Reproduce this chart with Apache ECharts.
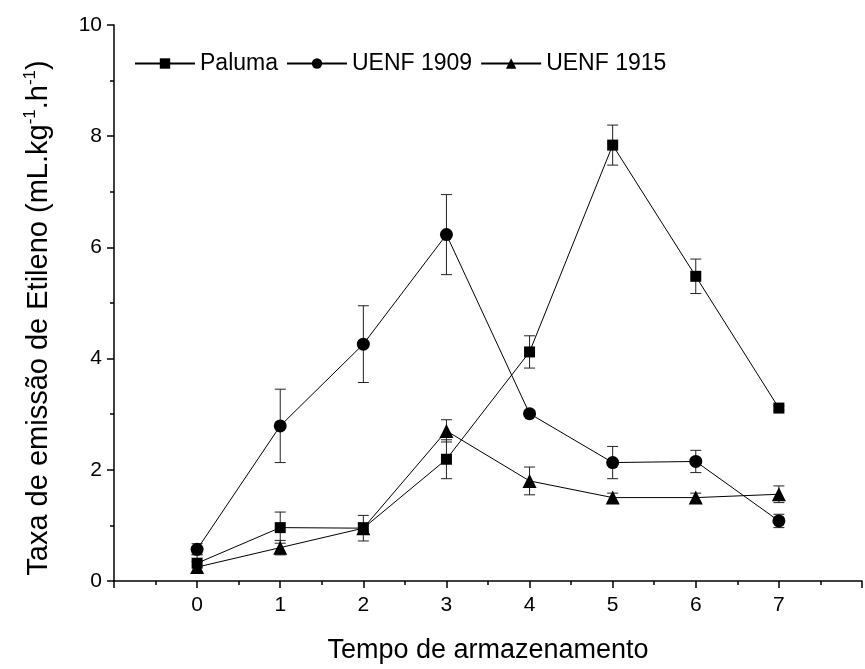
<!DOCTYPE html>
<html>
<head>
<meta charset="utf-8">
<script src="https://cdn.jsdelivr.net/npm/echarts@6/dist/echarts.min.js"></script>
<style>
  html, body { margin: 0; padding: 0; background: #fff; }
  #chart { width: 865px; height: 669px; }
</style>
</head>
<body>
<div id="chart"></div>
<script>
// dias de armazenamento
const tempo = [0, 1, 2, 3, 4, 5, 6, 7]
// Paluma
const paluma = [0.32, 0.96, 0.95, 2.19, 4.12, 7.84, 5.48, 3.11]
const palumaErr = [0.16, 0.28, 0.23, 0.35, 0.29, 0.36, 0.31, 0.04]
// UENF 1909
const uenf1909 = [0.57, 2.79, 4.26, 6.23, 3.01, 2.13, 2.15, 1.08]
const uenf1909Err = [0.1, 0.66, 0.69, 0.72, 0.05, 0.29, 0.2, 0.12]
// UENF 1915
const uenf1915 = [0.25, 0.6, 0.95, 2.7, 1.8, 1.5, 1.5, 1.56]
const uenf1915Err = [0.1, 0.13, 0.1, 0.2, 0.25, 0.08, 0.08, 0.15]

const font = 'Liberation Sans, Arial, sans-serif'

function lineSeries(name, vals, symbol, size) {
  return {
    name: name,
    type: 'line',
    data: tempo.map((t, i) => [t, vals[i]]),
    symbol: symbol,
    symbolSize: size,
    showAllSymbol: true,
    z: 3,
    lineStyle: { color: '#000', width: 1 },
    itemStyle: { color: '#000' }
  }
}

// barras de erro
function errorBars(vals, errs) {
  return {
    type: 'custom',
    silent: true,
    z: 2,
    data: tempo.map((t, i) => [t, vals[i] - errs[i], vals[i] + errs[i]]),
    encode: { x: 0, y: [1, 2] },
    renderItem: function (params, api) {
      const lo = api.coord([api.value(0), api.value(1)])
      const hi = api.coord([api.value(0), api.value(2)])
      const w = 5.5
      const st = { stroke: '#222', lineWidth: 1 }
      return {
        type: 'group',
        children: [
          { type: 'line', shape: { x1: lo[0], y1: lo[1], x2: hi[0], y2: hi[1] }, style: st },
          { type: 'line', shape: { x1: lo[0] - w, y1: lo[1], x2: lo[0] + w, y2: lo[1] }, style: st },
          { type: 'line', shape: { x1: hi[0] - w, y1: hi[1], x2: hi[0] + w, y2: hi[1] }, style: st }
        ]
      }
    }
  }
}

const chart = echarts.init(document.getElementById('chart'))
chart.setOption({
  animation: false,
  backgroundColor: '#fff',
  textStyle: { fontFamily: font, color: '#000' },
  grid: { left: 114, right: 0, top: 25, bottom: 82, containLabel: false },
  legend: {
    data: ['Paluma', 'UENF 1909', 'UENF 1915'],
    left: 129,
    top: 47,
    itemWidth: 60,
    itemHeight: 13,
    itemGap: 8,
    textStyle: { fontFamily: font, fontSize: 23, color: '#000' }
  },
  xAxis: {
    type: 'value',
    min: -1,
    max: 8,
    interval: 1,
    name: 'Tempo de armazenamento',
    nameLocation: 'middle',
    nameGap: 56,
    nameTextStyle: { fontFamily: font, fontSize: 27, color: '#000' },
    axisLine: { onZero: false, lineStyle: { color: '#000', width: 1.5 } },
    axisTick: { inside: false, length: 7, lineStyle: { color: '#000', width: 1.5 } },
    minorTick: { show: true, splitNumber: 2, length: 4, lineStyle: { color: '#000', width: 1.5 } },
    axisLabel: {
      margin: 14,
      fontSize: 21,
      color: '#000',
      formatter: v => (v < 0 || v > 7 ? '' : String(v))
    },
    splitLine: { show: false }
  },
  yAxis: {
    type: 'value',
    min: 0,
    max: 10,
    interval: 2,
    name: '{t|Taxa de emissão de Etileno (mL.kg}{s|-1}{t|.h}{s|-1}{t|)}',
    nameLocation: 'middle',
    nameGap: 58,
    nameRotate: 90,
    nameTextStyle: {
      fontFamily: font,
      color: '#000',
      padding: [0, 30, 0, 0],
      rich: {
        t: { fontSize: 29, fontFamily: font, color: '#000', lineHeight: 34 },
        s: { fontSize: 17, fontFamily: font, color: '#000', verticalAlign: 'top', lineHeight: 34 }
      }
    },
    axisLine: { show: true, onZero: false, lineStyle: { color: '#000', width: 1.5 } },
    axisTick: { inside: false, length: 7, lineStyle: { color: '#000', width: 1.5 } },
    minorTick: { show: true, splitNumber: 2, length: 4, lineStyle: { color: '#000', width: 1.5 } },
    axisLabel: { margin: 12, fontSize: 21, color: '#000' },
    splitLine: { show: false }
  },
  series: [
    errorBars(paluma, palumaErr),
    errorBars(uenf1909, uenf1909Err),
    errorBars(uenf1915, uenf1915Err),
    lineSeries('Paluma', paluma, 'rect', 11),
    lineSeries('UENF 1909', uenf1909, 'circle', 13),
    lineSeries('UENF 1915', uenf1915, 'triangle', 14)
  ]
})
</script>
</body>
</html>
